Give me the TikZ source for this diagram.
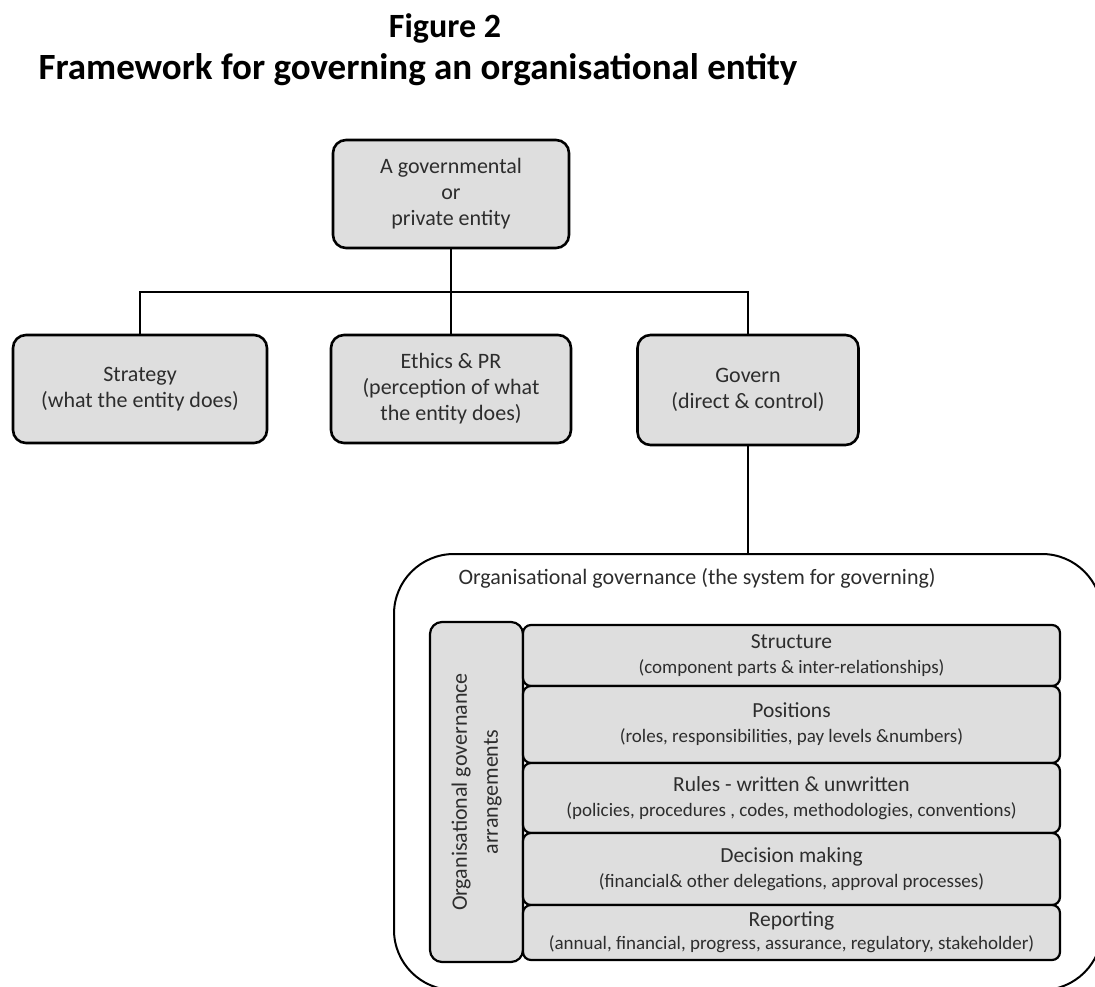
\documentclass[tikz,border=0pt]{standalone}
\usepackage{fontspec}
\setmainfont{Carlito}
\definecolor{boxfill}{RGB}{222,222,222}
\definecolor{txt}{RGB}{45,45,45}
\newcommand{\rowtitle}[1]{{\fontsize{21.5}{25}\selectfont #1}}
\begin{document}
\begin{tikzpicture}[x=1pt,y=-1pt,
  box/.style={draw=black,line width=2.6pt,fill=boxfill,rounded corners=13pt,
    align=center,text=txt,inner sep=0pt,font=\fontsize{22}{26}\selectfont},
  rowbox/.style={draw=black,line width=2.2pt,fill=boxfill,rounded corners=8pt,
    align=center,text=txt,inner sep=0pt,minimum width=537pt,font=\fontsize{19}{25}\selectfont},
  conn/.style={line width=2.8pt,line cap=rect}
  ]
\useasboundingbox (0,0) rectangle (1095,987);
% title
\node[font=\fontsize{34}{38}\bfseries\selectfont,anchor=base] (t1) at (445,38) {Figure 2};
\node[font=\fontsize{37}{40}\bfseries\selectfont,anchor=base] (t2) at (418,80) {Framework for governing an organisational entity};
% top boxes
\node[box,minimum width=236pt,minimum height=108pt] (top) at (451,194) {A governmental\\or\\private entity};
\node[box,minimum width=254pt,minimum height=108pt] (strat) at (140,389) {Strategy\\(what the entity does)};
\node[box,minimum width=240pt,minimum height=108pt] (ethics) at (451,389) {Ethics \& PR\\(perception of what\\the entity does)};
\node[box,minimum width=221pt,minimum height=110pt] (govern) at (748,390) {Govern\\(direct \& control)};
\coordinate (j) at (451,292);
% outer system box
\node[draw=black,line width=2pt,rounded corners=60pt,minimum width=708pt,minimum height=436pt,inner sep=0pt] (sys) at (748,772) {};
\node[anchor=base west,font=\fontsize{22}{26}\selectfont,text=txt] (syslabel) at (455,584) {Organisational governance (the system for governing)};
% connectors
\draw[conn] (top.south) -- (ethics.north);
\draw[conn] (strat.north) |- (j) -| (govern.north);
\draw[conn] (govern.south) -- (sys.north);
% arrangements
\node[box,line width=2.2pt,rounded corners=12pt,minimum width=93pt,minimum height=340pt] (arr) at (476.5,792) {};
\node[rotate=90,align=center,text=txt,font=\fontsize{22}{31}\selectfont] (arrlabel) at (arr.center) {Organisational governance\\arrangements};
% rows
\node[rowbox,minimum height=61pt] (structure) at (791.5,655.5) {\rowtitle{Structure}\\(component parts \& inter-relationships)};
\node[rowbox,minimum height=77pt] (positions) at (791.5,724.5) {\rowtitle{Positions}\\(roles, responsibilities, pay levels \&numbers)};
\node[rowbox,minimum height=70pt] (rules) at (791.5,798) {\rowtitle{Rules - written \& unwritten}\\(policies, procedures , codes, methodologies, conventions)};
\node[rowbox,minimum height=72pt] (decision) at (791.5,869) {\rowtitle{Decision making}\\(financial\& other delegations, approval processes)};
\node[rowbox,minimum height=55pt,font=\fontsize{19}{23}\selectfont] (reporting) at (791.5,932.5) {{\fontsize{21.5}{23}\selectfont Reporting}\\(annual, financial, progress, assurance, regulatory, stakeholder)};
\end{tikzpicture}
\end{document}
